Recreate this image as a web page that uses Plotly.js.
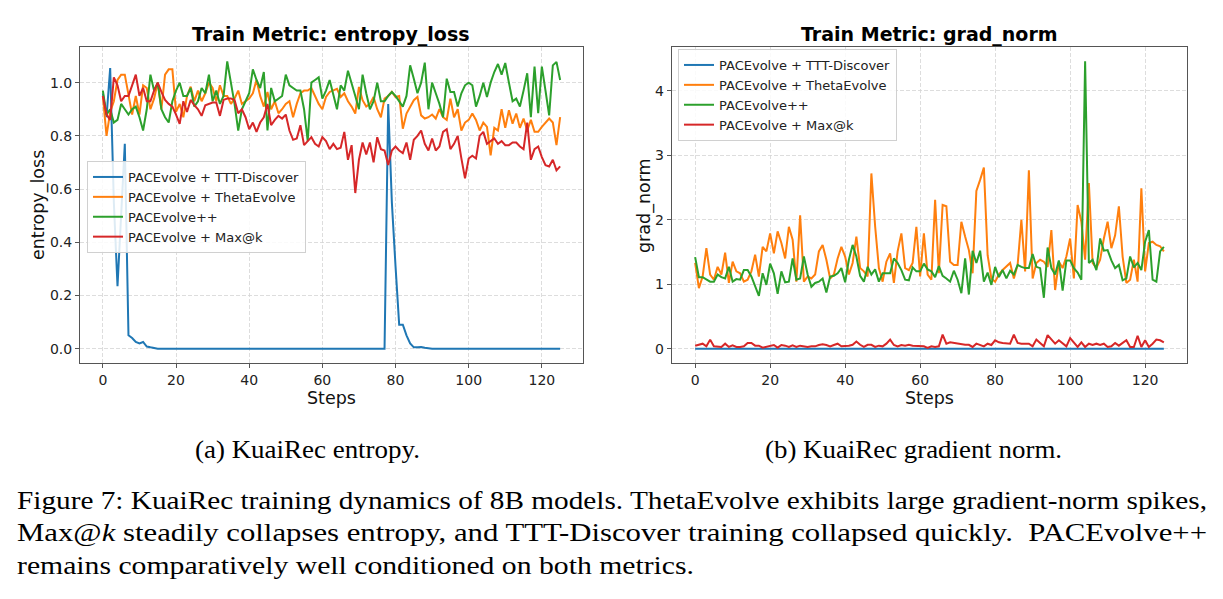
<!DOCTYPE html>
<html>
<head>
<meta charset="utf-8">
<script src="https://cdn.plot.ly/plotly-3.0.1.min.js"></script>
<style>
  html, body { margin: 0; padding: 0; background: #fff; }
  #fig { width: 1223px; height: 599px; }
</style>
</head>
<body>
<div id="fig"></div>
<script>
// Training steps (shared x values for every series)
const steps = [0,1,2,3,4,5,6,7,8,9,10,11,12,13,14,15,16,17,18,19,20,21,22,23,24,25,26,27,28,29,
  30,31,32,33,34,35,36,37,38,39,40,41,42,43,44,45,46,47,48,49,50,51,52,53,54,55,56,57,58,59,
  60,61,62,63,64,65,66,67,68,69,70,71,72,73,74,75,76,77,78,79,80,81,82,83,84,85,86,87,88,89,
  90,91,92,93,94,95,96,97,98,99,100,101,102,103,104,105,106,107,108,109,110,111,112,113,114,
  115,116,117,118,119,120,121,122,123,124,125];

const seriesNames = ["PACEvolve + TTT-Discover", "PACEvolve + ThetaEvolve", "PACEvolve++", "PACEvolve + Max@k"];

// entropy_loss per step
const entropyTTT = [0.96,0.87,1.055,0.55,0.235,0.50,0.77,0.05,0.04,0.025,0.02,0.025,0.008,0.005,0.002,
  0,0,0,0,0,0,0,0,0,0,0,0,0,0,0,0,0,0,0,0,0,0,0,0,0,0,0,0,0,0,0,0,0,0,0,
  0,0,0,0,0,0,0,0,0,0,0,0,0,0,0,0,0,0,0,0,0,0,0,0,0,0,0,0,
  0.92,0.55,0.31,0.09,0.09,0.05,0.02,0.005,0.005,0.006,0.003,0.001,
  0,0,0,0,0,0,0,0,0,0,0,0,0,0,0,0,0,0,0,0,0,0,0,0,0,0,0,0,0,0,0,0,0,0,0,0];
const entropyTheta = [0.95,0.80,0.89,0.93,1.01,1.03,1.03,0.95,0.88,0.95,0.88,0.99,0.98,0.90,0.94,
  1.00,0.90,1.03,1.05,1.05,0.89,0.92,0.87,0.95,0.985,0.93,0.97,0.93,0.96,1.00,
  0.98,0.93,0.99,0.95,0.95,0.92,0.94,0.97,0.92,0.93,0.94,0.96,1.01,0.95,0.91,
  0.965,0.90,0.93,0.885,0.90,0.92,0.93,0.87,0.92,0.96,0.97,0.97,0.98,0.95,0.92,
  0.90,0.946,0.965,0.97,0.977,0.946,0.96,0.93,0.91,0.884,0.984,0.934,0.91,0.92,0.946,
  0.90,0.87,0.94,0.95,0.965,0.946,0.95,0.827,0.884,0.91,0.934,0.946,0.877,0.865,0.87,
  0.88,0.865,0.90,0.87,0.86,0.94,0.87,0.90,0.82,0.85,0.86,0.884,0.86,0.82,0.85,
  0.834,0.727,0.83,0.82,0.90,0.83,0.896,0.846,0.884,0.83,0.865,0.82,0.86,0.815,0.815,
  0.834,0.85,0.865,0.85,0.765,0.87];
const entropyPP = [0.97,0.88,0.90,0.85,0.86,0.92,0.90,0.88,0.90,0.91,0.87,0.82,0.90,1.03,0.97,
  1.00,0.90,0.87,0.85,0.93,0.97,1.00,0.95,0.95,0.98,0.91,0.93,0.98,0.96,1.03,
  0.93,0.97,0.92,0.95,1.08,1.00,0.92,0.82,0.90,0.93,0.96,1.05,1.01,0.98,1.04,
  0.82,0.98,0.93,0.94,0.95,1.03,0.99,0.98,0.97,0.97,0.90,0.78,1.00,1.01,1.02,
  0.94,0.97,1.01,0.95,0.90,0.99,0.97,1.045,1.00,0.95,0.90,1.03,0.96,0.90,0.93,
  1.00,0.93,0.93,0.95,0.965,0.95,0.93,0.91,0.95,1.065,1.015,0.96,1.00,1.075,0.90,
  1.00,0.96,0.92,0.87,1.015,0.965,0.965,0.91,0.96,0.99,1.00,0.99,0.91,0.95,1.00,
  0.946,1.00,1.04,1.07,1.03,1.074,1.00,0.93,0.94,0.91,0.97,1.035,0.87,1.06,0.885,
  1.06,0.97,0.877,1.065,1.078,1.01];
const entropyMax = [0.95,0.88,0.86,1.02,0.99,0.93,0.95,0.95,0.99,1.03,0.95,0.98,0.93,0.93,0.97,
  1.00,0.965,0.935,0.92,0.91,0.88,0.845,0.93,0.89,0.935,0.915,0.90,0.875,0.915,0.92,
  0.925,0.925,0.875,0.935,0.94,0.94,0.935,0.885,0.90,0.87,0.825,0.85,0.815,0.85,0.87,
  0.92,0.84,0.86,0.875,0.865,0.88,0.82,0.785,0.79,0.84,0.765,0.78,0.795,0.77,0.76,
  0.795,0.78,0.75,0.77,0.75,0.755,0.815,0.71,0.765,0.585,0.71,0.775,0.73,0.775,0.70,
  0.795,0.75,0.745,0.69,0.745,0.76,0.745,0.735,0.775,0.71,0.785,0.80,0.82,0.77,0.745,
  0.79,0.745,0.76,0.815,0.825,0.75,0.77,0.80,0.715,0.64,0.715,0.725,0.715,0.80,0.815,
  0.77,0.78,0.79,0.77,0.78,0.765,0.765,0.775,0.775,0.76,0.75,0.85,0.71,0.75,0.76,
  0.72,0.69,0.685,0.71,0.67,0.685];

// grad_norm per step
const gradTTT = [0,0,0,0,0,0,0,0,0,0,0,0,0,0,0,0,0,0,0,0,0,0,0,0,0,0,0,0,0,0,
  0,0,0,0,0,0,0,0,0,0,0,0,0,0,0,0,0,0,0,0,0,0,0,0,0,0,0,0,0,0,
  0,0,0,0,0,0,0,0,0,0,0,0,0,0,0,0,0,0,0,0,0,0,0,0,0,0,0,0,0,0,
  0,0,0,0,0,0,0,0,0,0,0,0,0,0,0,0,0,0,0,0,0,0,0,0,0,0,0,0,0,0,
  0,0,0,0,0,0];
const gradTheta = [1.33,0.94,1.12,1.56,1.15,1.07,1.27,1.15,1.49,1.02,1.35,1.20,1.17,1.04,1.07,
  1.20,1.46,1.12,1.58,1.51,1.79,1.48,1.82,1.64,1.40,1.89,1.69,1.04,2.07,1.04,
  1.12,1.09,1.15,1.51,1.61,1.38,1.09,1.15,1.40,1.58,1.43,1.15,1.33,1.74,1.25,
  1.20,1.12,2.72,1.90,1.25,1.04,1.35,1.48,1.02,1.51,1.79,1.25,1.22,1.33,1.89,
  1.12,1.79,1.15,1.07,2.31,1.17,2.23,2.21,1.35,1.30,1.30,1.97,1.74,1.53,1.17,
  2.45,2.62,2.81,1.45,1.09,1.04,1.15,1.22,1.27,1.33,1.09,1.30,2.00,1.20,2.77,
  1.09,1.33,1.38,1.35,1.27,1.84,0.91,1.35,1.25,1.43,1.71,1.09,2.23,1.97,1.38,
  2.57,1.33,1.25,1.38,1.71,1.97,1.56,1.76,2.21,1.43,1.02,1.07,1.38,1.04,2.49,
  1.20,1.64,1.66,1.61,1.59,1.51];
const gradPP = [1.42,1.11,1.11,1.08,1.04,1.04,1.15,1.11,1.09,1.27,1.04,1.08,1.07,1.22,1.22,
  1.12,0.96,0.82,1.17,0.99,1.32,1.17,0.85,1.20,1.03,1.04,1.40,1.07,1.09,1.43,
  1.15,0.96,1.02,1.04,1.09,0.87,1.12,1.13,1.17,1.25,1.03,1.38,1.61,1.43,1.13,
  1.04,1.27,1.15,1.23,1.04,1.17,1.17,1.17,1.40,1.33,1.22,1.07,1.06,1.26,1.20,
  1.20,1.32,1.23,1.20,1.11,1.28,1.13,1.09,1.04,1.21,1.07,0.86,1.40,0.84,1.52,
  1.33,1.52,1.04,1.18,0.99,1.27,1.11,1.22,1.09,1.21,1.15,1.30,1.27,1.25,1.25,
  1.47,1.27,1.25,0.79,1.57,1.25,1.15,1.37,0.90,1.37,1.37,1.25,1.18,1.07,4.46,
  1.33,1.38,1.22,1.71,1.52,1.53,1.37,1.25,1.30,1.06,1.09,1.43,1.26,1.33,1.22,
  1.66,1.84,1.07,1.04,1.51,1.58];
const gradMax = [0.046,0.06,0.077,0.036,0.14,0.036,0.036,0.026,0.077,0.026,0.05,0.026,0.026,0.036,0.088,
  0.088,0.046,0.046,0.015,0.026,0.036,0.057,0.015,0.057,0.046,0.026,0.05,0.026,0.046,0.036,
  0.026,0.036,0.036,0.057,0.067,0.057,0.036,0.057,0.077,0.036,0.036,0.046,0.06,0.11,0.06,
  0.026,0.06,0.06,0.026,0.046,0.036,0.077,0.14,0.057,0.036,0.057,0.046,0.06,0.046,0.046,
  0.036,0.036,0.01,0.036,0.026,0.036,0.217,0.077,0.098,0.088,0.072,0.06,0.06,0.06,0.026,
  0.077,0.06,0.036,0.077,0.057,0.13,0.098,0.088,0.077,0.077,0.217,0.088,0.077,0.077,0.077,
  0.036,0.14,0.088,0.036,0.21,0.14,0.077,0.13,0.077,0.036,0.165,0.088,0.026,0.098,0.026,
  0.077,0.057,0.077,0.057,0.077,0.026,0.036,0.088,0.046,0.088,0.13,0.026,0.026,0.20,0.026,
  0.13,0.026,0.077,0.14,0.13,0.098];

const stepTicks = [0, 20, 40, 60, 80, 100, 120];
const colors = ["#1f77b4", "#ff7f0e", "#2ca02c", "#d62728"];

// Caption lines: text, left edge (px), vertical centre (px), rendered width (px)
const captionLines = [
  ["(a) KuaiRec entropy.", 193, 450, 225],
  ["(b) KuaiRec gradient norm.", 763, 450, 297],
  ["Figure 7: KuaiRec training dynamics of 8B models. ThetaEvolve exhibits large gradient-norm spikes,", 15, 500, 1190],
  ["Max@<i>k</i> steadily collapses entropy, and TTT-Discover training collapsed quickly.  PACEvolve++", 15, 533, 1190],
  ["remains comparatively well conditioned on both metrics.", 15, 565, 677]
];

const W = 1223, H = 599;
const px = v => v / W;          // pixel -> paper x
const py = v => 1 - v / H;      // pixel -> paper y

const FONT = "DejaVu Sans";
const SERIF = "Liberation Serif";

function lineTrace(y, i, xa, ya, legendId) {
  return {
    x: steps, y: y, type: "scatter", mode: "lines",
    name: seriesNames[i], xaxis: xa, yaxis: ya, legend: legendId,
    line: { color: colors[i], width: 2 }
  };
}

const data = [
  lineTrace(entropyTTT, 0, "x", "y", "legend"),
  lineTrace(entropyTheta, 1, "x", "y", "legend"),
  lineTrace(entropyPP, 2, "x", "y", "legend"),
  lineTrace(entropyMax, 3, "x", "y", "legend"),
  lineTrace(gradTTT, 0, "x2", "y2", "legend2"),
  lineTrace(gradTheta, 1, "x2", "y2", "legend2"),
  lineTrace(gradPP, 2, "x2", "y2", "legend2"),
  lineTrace(gradMax, 3, "x2", "y2", "legend2")
];

const axisBase = {
  showline: true, mirror: true, linecolor: "#555", linewidth: 1,
  ticks: "outside", ticklen: 4, tickcolor: "#555", tickwidth: 1,
  showgrid: true, gridcolor: "#d4d4d4", gridwidth: 0.8, griddash: "4px,2px",
  zeroline: false, tickfont: { family: FONT, size: 14, color: "#222" },
  automargin: false
};

const legendBase = {
  xanchor: "left", yanchor: "top",
  bgcolor: "rgba(255,255,255,0.85)", bordercolor: "#d0d0d0", borderwidth: 1,
  font: { family: FONT, size: 13, color: "#222" }, itemwidth: 30, tracegroupgap: 0
};

function textNote(text, x, y, size, opts) {
  return Object.assign({
    text: text, x: px(x), y: py(y), xref: "paper", yref: "paper",
    showarrow: false, xanchor: "center", yanchor: "middle",
    font: { family: FONT, size: size, color: "#000" }
  }, opts || {});
}

const annotations = [
  textNote("<b>Train Metric: entropy_loss</b>", 331.5, 35, 19),
  textNote("<b>Train Metric: grad_norm</b>", 929.5, 35, 19),
  textNote("entropy_loss", 39, 205, 17.5, { textangle: -90, font: { family: FONT, size: 17.5, color: "#111" } }),
  textNote("grad_norm", 645, 205, 17.5, { textangle: -90, font: { family: FONT, size: 17.5, color: "#111" } })
];
captionLines.forEach(c => {
  annotations.push(textNote(c[0], c[1], c[2], 25, {
    xanchor: "left", align: "left", font: { family: SERIF, size: 25, color: "#000" }
  }));
});

const layout = {
  width: W, height: H,
  margin: { l: 0, r: 0, t: 0, b: 0 },
  paper_bgcolor: "#fff", plot_bgcolor: "#fff",
  showlegend: true,
  xaxis: Object.assign({}, axisBase, {
    domain: [px(80), px(583)], range: [-6.25, 131.25],
    tickvals: stepTicks, anchor: "y",
    title: { text: "Steps", font: { family: FONT, size: 17.5, color: "#111" }, standoff: 2 }
  }),
  yaxis: Object.assign({}, axisBase, {
    domain: [py(363), py(47)], range: [-0.054, 1.134], dtick: 0.2, tickformat: ".1f", anchor: "x"
  }),
  xaxis2: Object.assign({}, axisBase, {
    domain: [px(671.7), px(1187.3)], range: [-6.25, 131.25],
    tickvals: stepTicks, anchor: "y2",
    title: { text: "Steps", font: { family: FONT, size: 17.5, color: "#111" }, standoff: 2 }
  }),
  yaxis2: Object.assign({}, axisBase, {
    domain: [py(363), py(47)], range: [-0.223, 4.683], dtick: 1, anchor: "x2"
  }),
  legend: Object.assign({}, legendBase, { x: px(87), y: py(161) }),
  legend2: Object.assign({}, legendBase, { x: px(678), y: py(49) }),
  annotations: annotations
};

Plotly.newPlot("fig", data, layout, { staticPlot: true, displayModeBar: false }).then(gd => {
  // Set each caption line to its typeset width
  const nodes = gd.querySelectorAll("text.annotation-text");
  nodes.forEach(node => {
    const content = node.textContent;
    captionLines.forEach(c => {
      const plain = c[0].replace(/<[^>]+>/g, "");
      if (content === plain) {
        node.setAttribute("textLength", c[3]);
        node.setAttribute("lengthAdjust", "spacingAndGlyphs");
      }
    });
  });
});
</script>
</body>
</html>
